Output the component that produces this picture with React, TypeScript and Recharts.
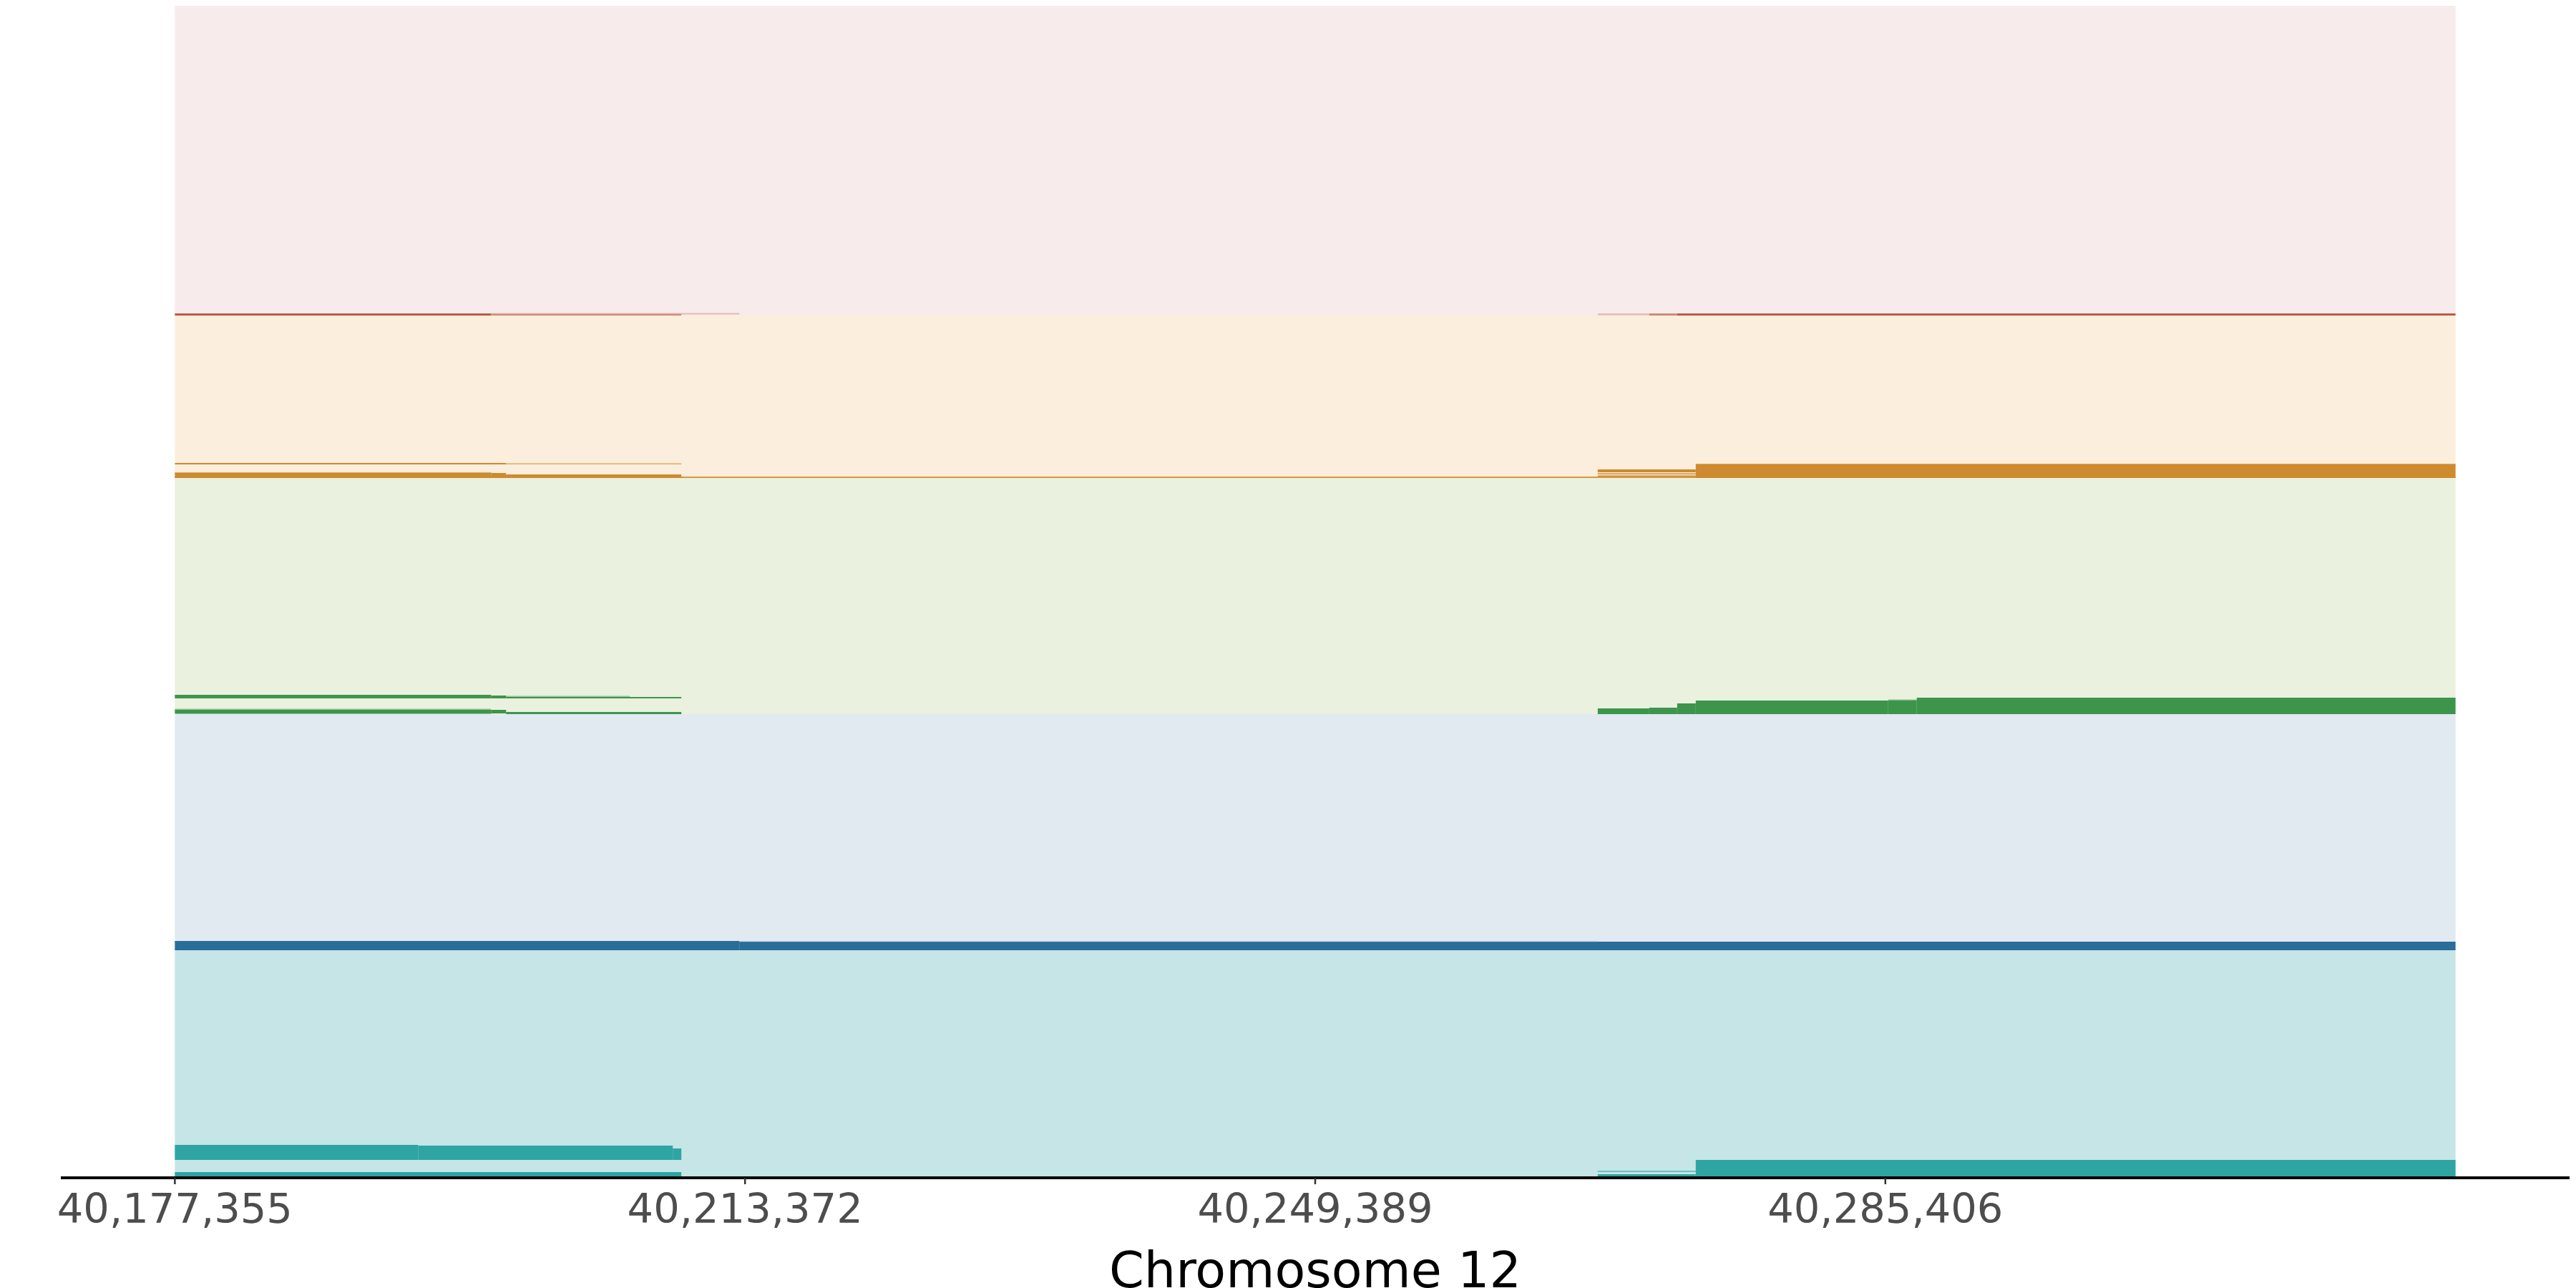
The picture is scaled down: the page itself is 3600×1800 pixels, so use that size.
import React from 'react';
import { ComposedChart, XAxis, YAxis, ReferenceArea, Line } from 'recharts';

// Genomic window (chromosome 12)
const xStart = 40177355;
const xEnd = 40321423;
const tickValues = [40177355, 40213372, 40249389, 40285406];
const axisTitle = 'Chromosome 12';

// breakpoints (bp)
const P0 = 40177355;
const Pa = 40192720;
const Pb = 40197329;
const Pc = 40198278;
const Pd = 40206096;
const Pe = 40208807;
const Pf = 40209350;
const Pg = 40213010;
const Ph = 40267238;
const Pi = 40270492;
const Pj = 40272254;
const Pk = 40273429;
const Pl = 40285585;
const Pn = 40287393;
const PE = 40321423;

// tracks from top to bottom: base level and height (track units)
const trackNames = ['red', 'orange', 'green', 'blue', 'teal'];
const trackBase = [1205, 978, 648, 318, 0];
const trackHeight = [433, 227, 330, 330, 318];

// segments per track: [from, to, low, high] relative to track base
const redDark = [[P0, Pb, 0, 3], [Pj, PE, 0, 3]];
const redMid = [[Pi, Pj, 0, 3], [Pb, Pf, 0, 2.5]];
const redLight = [[Pb, Pf, 2.5, 3.5], [Pf, Pg, 1.5, 3.5], [Ph, Pi, 0.5, 3]];

const orangeMid = [[P0, PE, 0, 2]];
const orangeDark = [
  [P0, Pb, 0, 8], [Pb, Pc, 0, 7], [Pc, Pf, 0, 5],
  [P0, Pc, 19, 21],
  [Ph, Pk, 8, 12], [Ph, Pk, 5, 6.5], [Ph, Pk, 2, 3.5],
  [Pk, PE, 0, 20],
];
const orangeLight = [[Pc, Pf, 19, 20.5], [Pk, PE, 19, 20], [P0, Pb, 7, 8]];

const greenDark = [
  [P0, Pb, 22, 27], [Pb, Pc, 22, 26], [Pc, Pf, 22, 24],
  [P0, Pb, 1, 6], [Pb, Pc, 1, 6], [Pc, Pf, 0, 3],
  [Ph, Pi, 0, 8], [Pi, Pj, 0, 9], [Pj, Pk, 0, 15], [Pk, Pl, 0, 19], [Pl, Pn, 0, 19.5], [Pn, PE, 0, 23],
];
const greenLight = [[Pc, Pd, 24, 25.5], [Pl, Pn, 19.5, 20.5], [P0, Pb, 6, 7.5], [Ph, Pk, 0, 1.3], [P0, Pb, 0, 1]];

const blueDark = [[P0, Pg, 0, 13], [Pg, PE, 0, 12]];
const blueLight = [[Pg, Ph, 11.5, 12.3]];

const tealDark = [
  [P0, Pa, 25, 46], [Pa, Pe, 25, 45], [Pe, Pf, 25, 41],
  [P0, Pf, 0, 8],
  [Ph, Pk, 1, 5],
  [Pk, PE, 0, 25],
];
const tealLight = [[Ph, Pk, 8, 10], [Pf, Ph, 0, 1]];

// styles
const bgColors = ['#f7ebeb', '#fbeedc', '#eaf1de', '#e1e9f1', '#c5e5e6'];
const layers = [
  { track: 0, segs: redLight, color: '#e3bcb3' },
  { track: 0, segs: redMid, color: '#cf8b7c' },
  { track: 0, segs: redDark, color: '#b95b48' },
  { track: 1, segs: orangeMid, color: '#d6973f' },
  { track: 1, segs: orangeDark, color: '#cd8a2e' },
  { track: 1, segs: orangeLight, color: '#ddaa63' },
  { track: 2, segs: greenLight, color: '#92c698' },
  { track: 2, segs: greenDark, color: '#3c954b' },
  { track: 3, segs: blueDark, color: '#2a6d99' },
  { track: 3, segs: blueLight, color: '#5b8fb3' },
  { track: 4, segs: tealLight, color: '#6cc0bf' },
  { track: 4, segs: tealDark, color: '#2fa5a3' },
];

const pad = 0.05 * (xEnd - xStart);
const yTop = trackBase[0] + trackHeight[0];
const lineData = [{ x: xStart, y: 0 }, { x: xEnd, y: 0 }];

const fmt = (v: number) => Math.round(v).toLocaleString('en-US');

export default function App() {
  return (
    <div style={{ position: 'absolute', left: 0, top: 0, width: 3600, height: 1800, background: '#fff' }}>
      <ComposedChart
        width={3600}
        height={1800}
        data={lineData}
        margin={{ top: 8, right: 9, bottom: 0, left: 85 }}
      >
        <XAxis
          type="number"
          dataKey="x"
          domain={[xStart - pad, xEnd + pad]}
          ticks={tickValues}
          interval={0}
          allowDataOverflow
          tickFormatter={fmt}
          height={154}
          axisLine={{ stroke: '#000', strokeWidth: 4 }}
          tickLine={{ stroke: '#333', strokeWidth: 2.5 }}
          tickSize={9}
          tickMargin={13}
          tick={{ fill: '#4d4d4d', fontSize: 57.5, fontFamily: 'DejaVu Sans' }}
          label={{
            value: axisTitle,
            position: 'insideBottom',
            offset: 1,
            fill: '#000',
            fontSize: 70,
            fontFamily: 'DejaVu Sans',
          }}
        />
        <YAxis type="number" domain={[0, yTop]} hide allowDataOverflow />
        {trackNames.map((name, i) => (
          <ReferenceArea
            key={'bg-' + name}
            x1={xStart}
            x2={xEnd}
            y1={trackBase[i]}
            y2={trackBase[i] + trackHeight[i]}
            fill={bgColors[i]}
            fillOpacity={1}
            stroke="none"
            ifOverflow="visible"
          />
        ))}
        {layers.map((layer, li) =>
          layer.segs.map((s, si) => (
            <ReferenceArea
              key={'seg-' + li + '-' + si}
              x1={s[0]}
              x2={s[1]}
              y1={trackBase[layer.track] + s[2]}
              y2={trackBase[layer.track] + s[3]}
              fill={layer.color}
              fillOpacity={1}
              stroke="none"
              ifOverflow="visible"
            />
          ))
        )}
        <Line dataKey="y" stroke="none" dot={false} activeDot={false} isAnimationActive={false} />
      </ComposedChart>
    </div>
  );
}
